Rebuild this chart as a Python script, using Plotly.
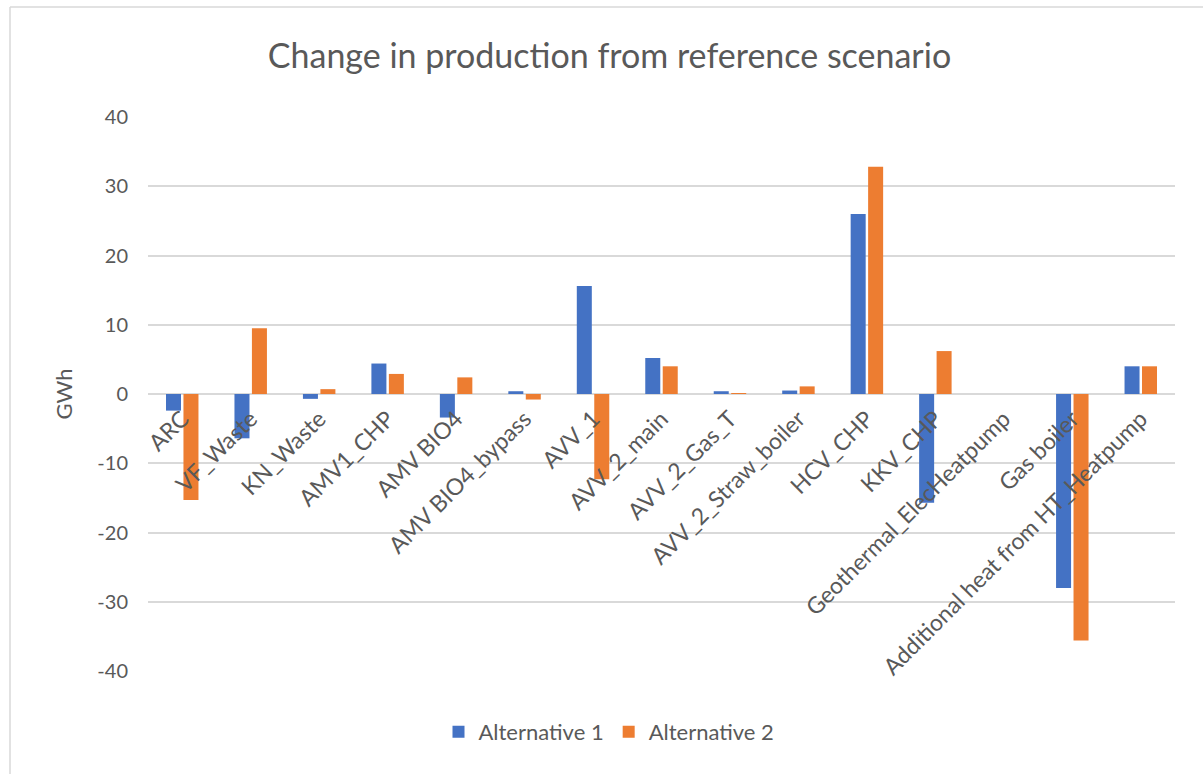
import plotly.graph_objects as go

categories = [
    "ARC", "VF_Waste", "KN_Waste", "AMV1_CHP", "AMV BIO4", "AMV BIO4_bypass",
    "AVV_1", "AVV_2_main", "AVV_2_Gas_T", "AVV_2_Straw_boiler", "HCV_CHP",
    "KKV_CHP", "Geothermal_ElecHeatpump", "Gas boiler",
    "Additional heat from HT_Heatpump",
]
alternative_1 = [-2.4, -6.4, -0.7, 4.4, -3.4, 0.4, 15.6, 5.2, 0.4, 0.5, 26.0,
                 -15.7, 0.0, -28.0, 4.0]
alternative_2 = [-15.3, 9.5, 0.7, 2.9, 2.4, -0.8, -12.3, 4.0, 0.05, 1.1, 32.8,
                 6.2, 0.0, -35.6, 4.0]
y_ticks = [-40, -30, -20, -10, 0, 10, 20, 30, 40]

W, H = 1203, 774
L, R, T, B = 148, 28, 117, 103
FONT = "Lato"
TEXT = "#595959"
GRID = "#d9d9d9"

fig = go.Figure()
fig.add_trace(go.Bar(name="Alternative 1", x=categories, y=alternative_1,
                     marker=dict(color="#4472C4", line=dict(width=0))))
fig.add_trace(go.Bar(name="Alternative 2", x=categories, y=alternative_2,
                     marker=dict(color="#ED7D31", line=dict(width=0))))

pw, ph = W - L - R, H - T - B


def px_x(px):
    return (px - L) / pw


def px_y(py):
    return (H - B - py) / ph


# chart-area frame (top and left edges visible)
border = dict(type="line", xref="paper", yref="paper",
              line=dict(color=GRID, width=1.5))
shapes = [
    dict(border, x0=px_x(10), x1=px_x(10), y0=px_y(7), y1=px_y(780)),
    dict(border, x0=px_x(10), x1=px_x(1210), y0=px_y(7), y1=px_y(7)),
]

fig.update_layout(
    width=W, height=H,
    margin=dict(l=L, r=R, t=T, b=B),
    paper_bgcolor="white", plot_bgcolor="white",
    font=dict(family=FONT, color=TEXT),
    barmode="group", bargap=0.49, bargroupgap=0.14,
    title=dict(text="Change in production from reference scenario",
               x=609.5 / W, xanchor="center", y=1 - 56 / H, yanchor="middle",
               font=dict(family=FONT, size=34, color=TEXT)),
    xaxis=dict(anchor="free", position=0.5, tickangle=-45,
               tickfont=dict(family=FONT, size=23, color=TEXT),
               ticklabelstandoff=6,
               showgrid=False, showline=False, ticks="", zeroline=False),
    yaxis=dict(range=[-40, 40], tickvals=y_ticks,
               ticktext=[str(v) for v in y_ticks],
               tickfont=dict(family=FONT, size=20, color=TEXT),
               showgrid=True, gridcolor=GRID, gridwidth=1.5,
               zeroline=True, zerolinecolor=GRID, zerolinewidth=1.5,
               showline=False, ticks="", ticklabelstandoff=19,
               title=dict(text="GWh", standoff=18,
                          font=dict(family=FONT, size=22, color=TEXT))),
    legend=dict(orientation="h", x=px_x(609), xanchor="center",
                y=px_y(732), yanchor="middle",
                font=dict(family=FONT, size=22, color=TEXT),
                itemwidth=30, traceorder="normal"),
    shapes=shapes,
)

fig.write_html("out.html")
